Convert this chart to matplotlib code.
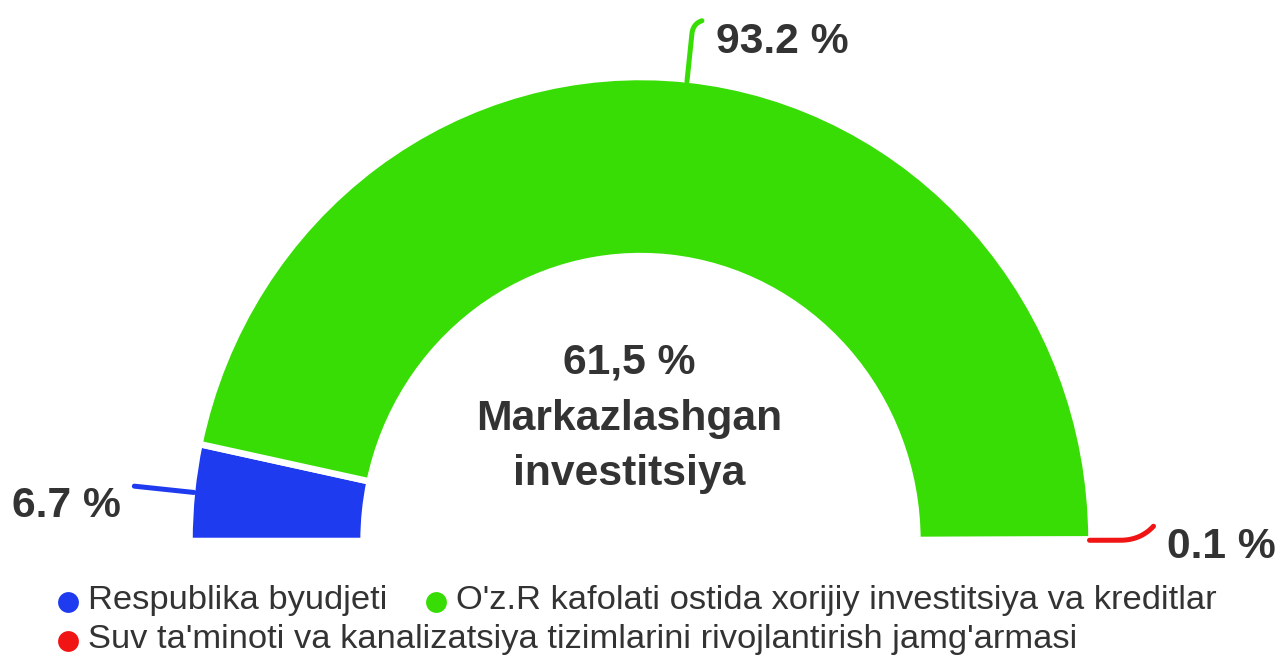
import numpy as np
import matplotlib
matplotlib.use("Agg")
import matplotlib.pyplot as plt

# ---- data ----
categories = [
    "Respublika byudjeti",
    "O'z.R kafolati ostida xorijiy investitsiya va kreditlar",
    "Suv ta'minoti va kanalizatsiya tizimlarini rivojlantirish jamg'armasi",
]
shares = [6.7, 93.2, 0.1]
share_labels = ["6.7 %", "93.2 %", "0.1 %"]
center_lines = ["61,5 %", "Markazlashgan", "investitsiya"]
colors = ["#1f3bef", "#38dd06", "#f01414"]

W, H = 1282, 655
plt.rcParams['font.family'] = ['Liberation Sans', 'DejaVu Sans']
fig = plt.figure(figsize=(W / 100, H / 100), dpi=100)
ax = fig.add_axes([0, 0, 1, 1])

# geometry (pixels) -> data units
cx, cy = 640.5, 541.0
sx, sy = 451.0, 464.0

vals = shares + [sum(shares)]  # hidden lower half
wedges, _ = ax.pie(vals, startangle=180, counterclock=False,
                   colors=colors + ["white"], radius=1.0,
                   wedgeprops=dict(width=0.386, edgecolor="white", linewidth=4.7))
wedges[3].set_visible(False)
ax.set_aspect("auto")
ax.set_xlim(-cx / sx, (W - cx) / sx)
ax.set_ylim(-(H - cy) / sy, cy / sy)
ax.axis("off")

TXT = "#333333"

def fx(x):
    return x / W

def fy(y):
    return 1 - y / H

# leader lines: (radial length px, bend dx px, bend dy px, control length px)
leader_spec = [(58, 0, 0, 0), (46, 10, -13, 10), (29, 33, -14, 20)]
for w, col, (rl, bdx, bdy, cl) in zip(wedges[:3], colors, leader_spec):
    th = np.deg2rad((w.theta1 + w.theta2) / 2)
    ux, uy = np.cos(th), -np.sin(th)  # pixel direction (y down)
    x0, y0 = cx + sx * np.cos(th), cy - sy * np.sin(th)
    x1, y1 = x0 + rl * ux, y0 + rl * uy
    pts = [(x0 - 2 * ux, y0 - 2 * uy), (x1, y1)]
    if bdx or bdy:
        c = (x1 + cl * ux, y1 + cl * uy)
        e = (x1 + bdx, y1 + bdy)
        t = np.linspace(0, 1, 25)
        bx = (1 - t) ** 2 * x1 + 2 * (1 - t) * t * c[0] + t ** 2 * e[0]
        by = (1 - t) ** 2 * y1 + 2 * (1 - t) * t * c[1] + t ** 2 * e[1]
        pts += list(zip(bx, by))
    pts = np.array(pts)
    ax.plot((pts[:, 0] - cx) / sx, (cy - pts[:, 1]) / sy, color=col,
            lw=3.6, solid_capstyle="round", solid_joinstyle="round", zorder=1)

# percentage labels
lab_pos = [(121, 517, "right"), (716, 53, "left"), (1167, 558, "left")]
for s, (x, y, ha) in zip(share_labels, lab_pos):
    fig.text(fx(x), fy(y), s, ha=ha, va="baseline", fontsize=30.7,
             fontweight="bold", color=TXT)

# center text
for s, y in zip(center_lines, [373, 430, 485]):
    fig.text(fx(629), fy(y), s, ha="center", va="baseline", fontsize=30.7,
             fontweight="bold", color=TXT)

# legend (manual)
leg_pos = [(68, 602), (436, 602), (68, 641)]
for cat, col, (x, y) in zip(categories, colors, leg_pos):
    fig.add_artist(plt.Line2D([fx(x)], [fy(y)], marker="o", markersize=15,
                              color=col, markeredgewidth=0,
                              transform=fig.transFigure))
    fig.text(fx(x + 20), fy(y + 7), cat, ha="left", va="baseline",
             fontsize=24.8, color=TXT)

fig.savefig("out.png", dpi=100, facecolor="white")
